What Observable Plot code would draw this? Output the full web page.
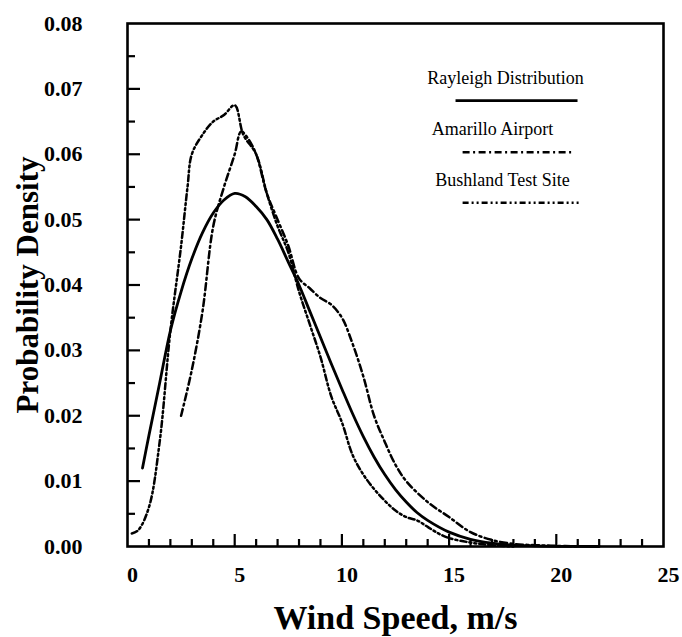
<!DOCTYPE html>
<html><head><meta charset="utf-8">
<script src="https://cdn.jsdelivr.net/npm/d3@7"></script>
<script src="https://cdn.jsdelivr.net/npm/@observablehq/plot@0.6"></script>
<style>
body{margin:0;background:#fff;}
#wrap{width:682px;height:637px;background:#fff;}
#wrap svg{font-family:"Liberation Serif","Times New Roman",serif;}
[aria-label="x-axis tick label"] text,[aria-label="y-axis tick label"] text{font-weight:bold;}
[aria-label="x-axis label"] text{font-weight:bold;font-size:34px;}
[aria-label="y-axis label"] text{font-weight:bold;font-size:31px;}
</style></head><body><div id="wrap"></div>
<script>
// Rayleigh distribution
const rayleighSpeed   = [0.7, 1, 1.5, 2, 2.5, 3, 3.5, 4, 4.5, 5, 5.5, 6, 6.5, 7, 7.5, 8, 8.5, 9, 9.5, 10, 10.5, 11, 11.5, 12, 12.5, 13, 13.5, 14, 15, 16, 17, 18, 19, 20, 22];
const rayleighDensity = [0.012, 0.017, 0.025, 0.033, 0.039, 0.044, 0.048, 0.051, 0.053, 0.054, 0.0535, 0.052, 0.050, 0.047, 0.0435, 0.040, 0.036, 0.032, 0.028, 0.0241, 0.0203, 0.0168, 0.0137, 0.0110, 0.0087, 0.0068, 0.0052, 0.0040, 0.0022, 0.0011, 0.0005, 0.0002, 0.0001, 0.00003, 0];
// Amarillo Airport
const amarilloSpeed   = [2.5, 3, 3.5, 4, 4.5, 5, 5.3, 5.6, 6, 6.5, 7, 7.5, 8, 8.5, 9, 9.5, 10, 10.5, 11, 11.5, 12, 12.5, 13, 14, 15, 16, 17, 18, 19, 20, 21];
const amarilloDensity = [0.020, 0.027, 0.036, 0.049, 0.055, 0.060, 0.0635, 0.0625, 0.060, 0.054, 0.050, 0.046, 0.041, 0.0395, 0.038, 0.037, 0.035, 0.031, 0.026, 0.020, 0.016, 0.0125, 0.010, 0.0068, 0.0045, 0.0022, 0.001, 0.0004, 0.0002, 0.0001, 0];
// Bushland Test Site
const bushlandSpeed   = [0.2, 0.5, 1, 1.5, 2, 2.5, 2.8, 3, 3.5, 4, 4.5, 5, 5.4, 6, 6.5, 7, 7.5, 8, 8.5, 9, 9.5, 10, 10.5, 11, 11.5, 12, 12.5, 13, 13.5, 14, 14.5, 15, 16, 17, 18];
const bushlandDensity = [0.002, 0.0025, 0.006, 0.016, 0.033, 0.046, 0.055, 0.060, 0.063, 0.065, 0.066, 0.0675, 0.063, 0.060, 0.054, 0.049, 0.045, 0.039, 0.034, 0.029, 0.023, 0.019, 0.014, 0.011, 0.0088, 0.007, 0.0055, 0.0045, 0.004, 0.003, 0.002, 0.0013, 0.0006, 0.0002, 0];

const xTickLabels = [0, 5, 10, 15, 20, 25];
const yTickLabels = [0, 0.01, 0.02, 0.03, 0.04, 0.05, 0.06, 0.07, 0.08];
const xMinorTicks = [1, 2, 3, 4, 6, 7, 8, 9, 11, 12, 13, 14, 16, 17, 18, 19, 21, 22, 23, 24];
const xMajorTicks = [5, 10, 15, 20];
const yMinorTicks = [0.005, 0.015, 0.025, 0.035, 0.045, 0.055, 0.065, 0.075];
const yMajorTicks = [0.01, 0.02, 0.03, 0.04, 0.05, 0.06, 0.07];

const seriesNames = ["Rayleigh Distribution", "Amarillo Airport", "Bushland Test Site"];
const seriesDash = [null, "7,3.5,2,3.5", "6,3,2,3,2,3"];
const seriesWidth = [2.8, 2.5, 2.5];
// legend placement (in chart units: wind speed, density)
const legendTextX = [17.63, 17.02, 17.49];
const legendTextY = [0.0716, 0.0639, 0.0561];
const legendLineX1 = [15.30, 15.63, 15.63];
const legendLineX2 = [20.99, 20.76, 21.04];
const legendLineY = [0.0682, 0.0603, 0.0526];

const zip = (xs, ys) => xs.map((x, i) => ({x, y: ys[i]}));
const rayleigh = zip(rayleighSpeed, rayleighDensity);
const amarillo = zip(amarilloSpeed, amarilloDensity);
const bushland = zip(bushlandSpeed, bushlandDensity);
const legend = seriesNames.map((name, i) => ({
  name, tx: legendTextX[i], ty: legendTextY[i],
  x1: legendLineX1[i], x2: legendLineX2[i], y: legendLineY[i]
}));

const plot = Plot.plot({
  width: 682, height: 637,
  marginLeft: 127, marginRight: 19, marginTop: 23, marginBottom: 91,
  x: {domain: [0, 25]},
  y: {domain: [0, 0.08]},
  style: {fontFamily: "Liberation Serif", background: "#fff", color: "#000"},
  marks: [
    // tick labels and axis titles
    Plot.axisX({ticks: xTickLabels, tickSize: 0, tickPadding: 20, fontSize: 22, dx: 5, tickFormat: d3.format("d"),
      label: "Wind Speed, m/s", labelAnchor: "center", labelOffset: 82, labelArrow: false}),
    Plot.axisY({ticks: yTickLabels, tickSize: 0, tickPadding: 45, fontSize: 22, tickFormat: d3.format(".2f"),
      label: "Probability Density", labelAnchor: "center", labelOffset: 112, labelArrow: false}),
    // series
    Plot.line(rayleigh, {x: "x", y: "y", curve: "catmull-rom", stroke: "#000", strokeWidth: seriesWidth[0]}),
    Plot.line(amarillo, {x: "x", y: "y", curve: "catmull-rom", stroke: "#000", strokeWidth: seriesWidth[1], strokeDasharray: seriesDash[1]}),
    Plot.line(bushland, {x: "x", y: "y", curve: "catmull-rom", stroke: "#000", strokeWidth: seriesWidth[2], strokeDasharray: seriesDash[2]}),
    // legend
    Plot.text(legend, {x: "tx", y: "ty", text: "name", fontSize: 18, fill: "#000", textAnchor: "middle", lineAnchor: "middle"}),
    ...legend.map((d, i) => Plot.link([d], {x1: "x1", x2: "x2", y1: "y", y2: "y", stroke: "#000",
      strokeWidth: seriesWidth[i], strokeDasharray: seriesDash[i]})),
    Plot.frame({stroke: "#000", strokeWidth: 2.6}),
    // inward tick marks (drawn last, on top)
    Plot.axisX({ticks: xMinorTicks, tickSize: 7, insetBottom: 7, strokeWidth: 2.2, tickFormat: () => "", label: null}),
    Plot.axisX({ticks: xMajorTicks, tickSize: 12, insetBottom: 12, strokeWidth: 2.2, tickFormat: () => "", label: null}),
    Plot.axisY({ticks: yMinorTicks, tickSize: 8, insetLeft: 8, strokeWidth: 2.2, tickFormat: () => "", label: null}),
    Plot.axisY({ticks: yMajorTicks, tickSize: 13, insetLeft: 13, strokeWidth: 2.2, tickFormat: () => "", label: null})
  ]
});
document.getElementById("wrap").appendChild(plot);
</script></body></html>
